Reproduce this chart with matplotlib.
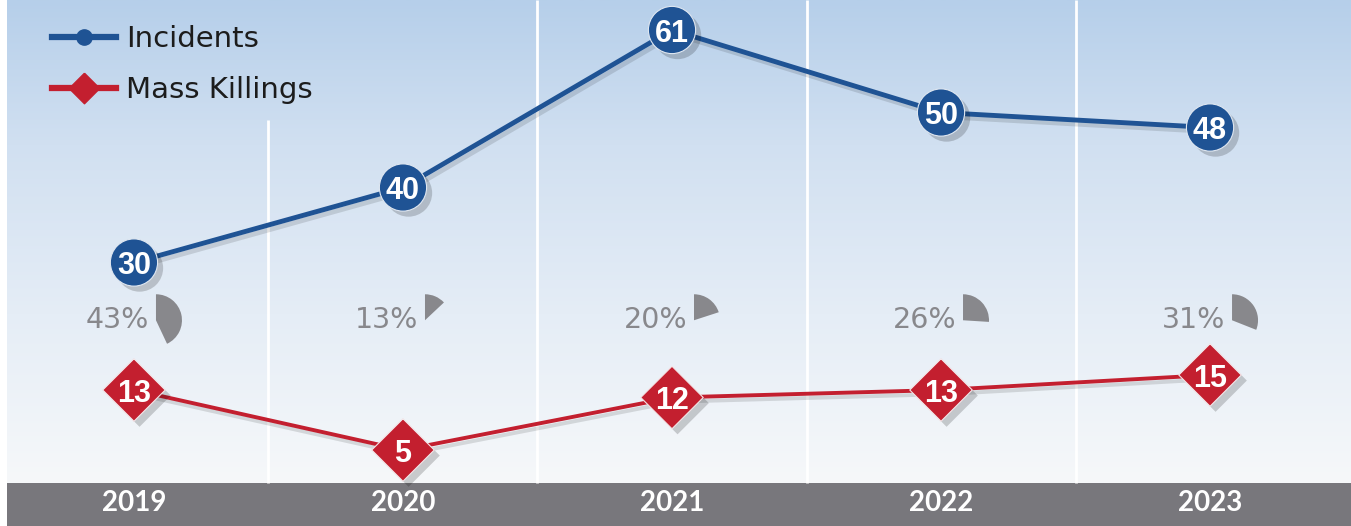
import numpy as np
import matplotlib
matplotlib.use("Agg")
import matplotlib.pyplot as plt
import matplotlib.patheffects as pe
import matplotlib.transforms as mtransforms
from matplotlib.patches import Wedge
from matplotlib.lines import Line2D
from matplotlib.colors import LinearSegmentedColormap

# ---------------- data ----------------
years = ["2019", "2020", "2021", "2022", "2023"]
incidents = [30, 40, 61, 50, 48]
mass_killings = [13, 5, 12, 13, 15]
pct_mass = [43, 13, 20, 26, 31]

# ---------------- style ----------------
BLUE = "#1f5394"
RED = "#c31f2f"
GREY_TXT = "#88888c"
BAND = "#78777c"
W, H = 1351, 526

fig = plt.figure(figsize=(W / 100, H / 100), dpi=100)
fig.patch.set_facecolor("white")

# background gradient panel
bg = fig.add_axes([7 / W, 43 / H, 1 - 7 / W, 483 / H])
bg.axis("off")
cmap = LinearSegmentedColormap.from_list(
    "bg", [(0.0, "#f6f8fa"), (0.35, "#e5edf6"), (0.7, "#d1e0f1"), (1.0, "#b6cfea")])
grad = np.linspace(0, 1, 256).reshape(-1, 1)
bg.imshow(grad, aspect="auto", cmap=cmap, origin="lower", extent=[0, 1, 0, 1])
bg.set_xlim(0, 1); bg.set_ylim(0, 1)

# bottom band
band = fig.add_axes([7 / W, 0, 1 - 7 / W, 43 / H])
band.set_facecolor(BAND)
band.set_xticks([]); band.set_yticks([])
for s in band.spines.values():
    s.set_visible(False)

# main axes
ax = fig.add_axes([0, 0, 1, 1])
ax.patch.set_visible(False)
ax.axis("off")
ax.set_xlim(-0.498, 4.524)
ax.set_ylim(-5.13, 65)

x = np.arange(len(years))

# dividers
for i in range(len(years) - 1):
    top = 49 if i == 0 else 65
    ax.vlines(i + 0.5, 0.6, top, color="white", lw=2, zorder=1)

# lines
line_fx = [pe.SimpleLineShadow(offset=(2, -3), alpha=0.12, shadow_color="k"), pe.Normal()]
ax.plot(x, incidents, color=BLUE, lw=3.5, zorder=3, path_effects=line_fx)
ax.plot(x, mass_killings, color=RED, lw=2.8, zorder=3, path_effects=line_fx)

mark_fx = [pe.SimplePatchShadow(offset=(4, -4), shadow_rgbFace="k", alpha=0.18), pe.Normal()]
diamond = [(0, 1), (1, 0), (0, -1), (-1, 0), (0, 1)]
ax.plot(x, incidents, ls="none", marker="o", ms=34, mfc=BLUE, mec="#dfe7f1",
        mew=0.8, zorder=4, path_effects=mark_fx)
ax.plot(x, mass_killings, ls="none", marker=diamond, ms=45, mfc=RED, mec="#f3e6e8",
        mew=0.8, zorder=4, path_effects=mark_fx)

num_font = dict(family=["Liberation Sans", "DejaVu Sans"], weight="bold",
                color="white", fontsize=22, ha="center", va="center_baseline", zorder=5)
for xi, v in zip(x, incidents):
    ax.text(xi, v, str(v), **num_font)
for xi, v in zip(x, mass_killings):
    ax.text(xi, v, str(v), **num_font)

# percentage labels with wedges
PCT_Y = 22.3
txt_tr = mtransforms.offset_copy(ax.transData, fig=fig, x=15, y=0, units="dots")
for xi, p in zip(x, pct_mass):
    ax.text(xi, PCT_Y, f"{p}%", transform=txt_tr, ha="right", va="center",
            fontsize=20.5, color=GREY_TXT, family="DejaVu Sans", zorder=5)
    tr = mtransforms.Affine2D().translate(22, 0) + mtransforms.ScaledTranslation(xi, PCT_Y, ax.transData)
    w = Wedge((0, 0), 26, 90 - 3.6 * p, 90, transform=tr, facecolor=GREY_TXT,
              edgecolor="none", zorder=5)
    ax.add_artist(w)

# year labels
for xi, yr in zip(x, years):
    ax.text(xi, -2.1, yr, ha="center", va="center", color="white",
            fontsize=20, fontweight="bold", family="Lato", zorder=5)

# legend
handles = [
    Line2D([], [], color=BLUE, lw=4.5, marker="o", ms=11, mfc=BLUE, mec=BLUE),
    Line2D([], [], color=RED, lw=4.5, marker=diamond, ms=22, mfc=RED, mec=RED),
]
leg = ax.legend(handles, ["Incidents", "Mass Killings"], loc="upper left",
                bbox_to_anchor=(52 / W, 1 - 25 / H), bbox_transform=fig.transFigure,
                frameon=False, fontsize=21, handlelength=2.2, handletextpad=0.35,
                labelspacing=0.8, borderpad=0, borderaxespad=0, numpoints=1)
for t in leg.get_texts():
    t.set_color("#1c1c1c")

fig.savefig("out.png", dpi=100)
